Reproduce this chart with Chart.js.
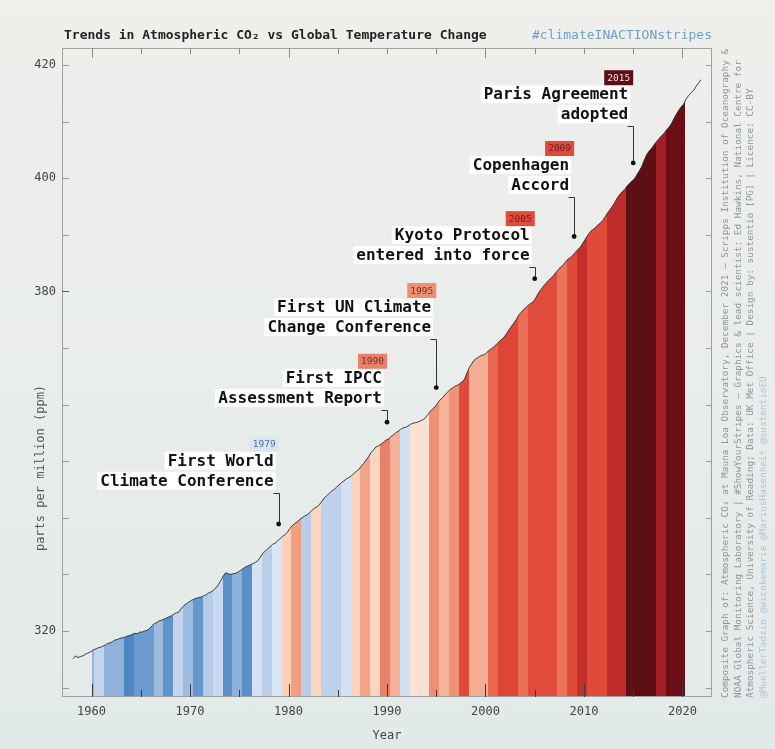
<!DOCTYPE html>
<html>
<head>
<meta charset="utf-8">
<title>Trends in Atmospheric CO2 vs Global Temperature Change</title>
<script src="https://cdn.jsdelivr.net/npm/chart.js@4.4.1/dist/chart.umd.min.js"></script>
<style>
    html, body { margin: 0; padding: 0; }
    body { width: 775px; height: 749px; overflow: hidden; background: linear-gradient(#efefec, #e2eae9); }
    #wrap { position: relative; width: 775px; height: 749px; }
</style>
</head>
<body>
<div id="wrap"><canvas id="co2Chart" width="775" height="749"></canvas></div>
<script>
// Mauna Loa CO2 (seasonally adjusted), quarterly means from 1958 Q1, ppm
const co2FirstYear = 1958;
const co2Quarterly = [
    315.1, 315.6, 315.3, 315.5,  // 1958
    315.6, 315.9, 316.1, 316.3,  // 1959
    316.6, 316.8, 317.0, 317.1,  // 1960
    317.3, 317.5, 317.8, 317.9,  // 1961
    318.1, 318.4, 318.5, 318.7,  // 1962
    318.8, 318.9, 319.1, 319.2,  // 1963
    319.4, 319.6, 319.5, 319.8,  // 1964
    319.8, 320.0, 320.1, 320.4,  // 1965
    320.9, 321.3, 321.5, 321.8,  // 1966
    321.9, 322.1, 322.3, 322.5,  // 1967
    322.7, 323.0, 323.2, 323.4,  // 1968
    324.0, 324.5, 324.8, 325.1,  // 1969
    325.4, 325.6, 325.8, 325.9,  // 1970
    326.0, 326.2, 326.4, 326.7,  // 1971
    326.9, 327.2, 327.6, 328.2,  // 1972
    328.9, 329.7, 330.3, 330.1,  // 1973
    330.0, 330.1, 330.2, 330.4,  // 1974
    330.7, 331.0, 331.3, 331.5,  // 1975
    331.7, 331.9, 332.1, 332.4,  // 1976
    333.0, 333.7, 334.1, 334.5,  // 1977
    334.9, 335.3, 335.5, 335.9,  // 1978
    336.3, 336.7, 337.0, 337.4,  // 1979
    338.1, 338.6, 339.0, 339.3,  // 1980
    339.7, 340.0, 340.3, 340.5,  // 1981
    340.9, 341.3, 341.7, 341.9,  // 1982
    342.3, 342.9, 343.5, 343.9,  // 1983
    344.3, 344.7, 345.0, 345.4,  // 1984
    345.8, 346.2, 346.5, 346.9,  // 1985
    347.1, 347.4, 347.8, 348.2,  // 1986
    348.5, 349.1, 349.6, 350.2,  // 1987
    350.8, 351.5, 352.0, 352.5,  // 1988
    352.7, 353.0, 353.3, 353.7,  // 1989
    353.9, 354.3, 354.6, 355.0,  // 1990
    355.3, 355.6, 355.9, 356.0,  // 1991
    356.2, 356.5, 356.7, 356.8,  // 1992
    356.9, 357.1, 357.3, 357.6,  // 1993
    358.2, 358.8, 359.2, 359.6,  // 1994
    360.2, 360.8, 361.2, 361.7,  // 1995
    362.2, 362.6, 362.9, 363.2,  // 1996
    363.4, 363.7, 364.0, 364.5,  // 1997
    365.6, 366.6, 367.3, 367.9,  // 1998
    368.2, 368.5, 368.7, 368.8,  // 1999
    369.2, 369.6, 369.9, 370.2,  // 2000
    370.7, 371.1, 371.5, 371.9,  // 2001
    372.5, 373.2, 373.8, 374.4,  // 2002
    375.0, 375.8, 376.3, 376.8,  // 2003
    377.2, 377.6, 377.9, 378.2,  // 2004
    378.9, 379.7, 380.3, 380.9,  // 2005
    381.4, 381.9, 382.3, 382.7,  // 2006
    383.3, 383.8, 384.3, 384.6,  // 2007
    385.2, 385.7, 386.0, 386.4,  // 2008
    386.9, 387.4, 387.8, 388.5,  // 2009
    389.2, 389.9, 390.5, 390.9,  // 2010
    391.2, 391.7, 392.0, 392.5,  // 2011
    393.1, 393.8, 394.4, 395.0,  // 2012
    395.7, 396.5, 397.1, 397.6,  // 2013
    398.0, 398.6, 399.1, 399.5,  // 2014
    399.9, 400.6, 401.3, 402.1,  // 2015
    403.2, 404.2, 404.8, 405.3,  // 2016
    405.9, 406.5, 407.0, 407.5,  // 2017
    407.9, 408.5, 409.0, 409.6,  // 2018
    410.5, 411.3, 412.0, 412.6,  // 2019
    413.1, 414.0, 414.6, 415.1,  // 2020
    415.5, 416.2, 416.8, 417.4   // 2021
];

// warming stripes, one colour per year
const stripeYears = [
    1960, 1961, 1962, 1963, 1964, 1965, 1966, 1967, 1968, 1969,
    1970, 1971, 1972, 1973, 1974, 1975, 1976, 1977, 1978, 1979,
    1980, 1981, 1982, 1983, 1984, 1985, 1986, 1987, 1988, 1989,
    1990, 1991, 1992, 1993, 1994, 1995, 1996, 1997, 1998, 1999,
    2000, 2001, 2002, 2003, 2004, 2005, 2006, 2007, 2008, 2009,
    2010, 2011, 2012, 2013, 2014, 2015, 2016, 2017, 2018, 2019, 2020
];
const stripeColors = [
    '#92b6dc', '#c2d5ed', '#8fb3da', '#8fb3da', '#4e86c2', '#6a9ace', '#6a9ace', '#9cbde0', '#5f93c9', '#c3d5ec',
    '#9cbde0', '#6797cb', '#b5cce9', '#c9daf0', '#5c90c8', '#8db2d9', '#5a8fc7', '#d6e2f2', '#b9cfe9', '#d8e5f4',
    '#fbd0b9', '#f0a07f', '#b8cde8', '#fad6c0', '#bdd1ea', '#bdd1ea', '#d4e1f2', '#fbd3bc', '#f1a487', '#fbd5c0',
    '#e9806a', '#f4b196', '#cfe0f2', '#fce0d0', '#fce0d0', '#ee8f72', '#f6b59a', '#ef9376', '#df4a3a', '#f4ad93',
    '#f4ad93', '#e9664f', '#dd4534', '#dd4534', '#ec6d55', '#e04b3b', '#e04b3b', '#e04b3b', '#ee7459', '#e04a3a',
    '#c3302c', '#df4a39', '#df4a39', '#bd2b2b', '#bd2b2b', '#5e0f13', '#5e0f13', '#5e0f13', '#a31e25', '#6c0e16', '#6c0e16'
];

// annotated events
const eventYears = [1979, 1990, 1995, 2005, 2009, 2015];
const eventLabels = [
    ['First World', 'Climate Conference'],
    ['First IPCC', 'Assessment Report'],
    ['First UN Climate', 'Change Conference'],
    ['Kyoto Protocol', 'entered into force'],
    ['Copenhagen', 'Accord'],
    ['Paris Agreement', 'adopted']
];
const eventDotPpm = [338.9, 356.9, 363.0, 382.25, 389.7, 402.7];
const eventLabelPpm = [346.55, 361.2, 373.7, 386.4, 398.8, 411.3];

// axis ticks
const yearTickLabels = [1960, 1970, 1980, 1990, 2000, 2010, 2020];
const yearTickMarks = [1960, 1965, 1970, 1975, 1980, 1985, 1990, 1995, 2000, 2005, 2010, 2015, 2020];
const ppmTickLabels = [320, 380, 400, 420];
const ppmTickMarks = [310, 320, 330, 340, 350, 360, 370, 380, 390, 400, 410, 420];

const creditLines = [
    'Composite Graph of: Atmospheric CO₂ at Mauna Loa Observatory, December 2021 – Scripps Institution of Oceanography &',
    'NOAA Global Monitoring Laboratory | #ShowYourStripes – Graphics & lead scientist: Ed Hawkins, National Centre for',
    'Atmospheric Science, University of Reading; Data: UK Met Office | Design by: sustentio [PG] | Licence: CC-BY',
    '@MuellerTadzio @wicokemarie @MariusHasenheit @sustentioEU'
];

const MONO = '"DejaVu Sans Mono", monospace';
Chart.defaults.font.family = MONO;

const co2Points = co2Quarterly.map((v, i) => ({ x: co2FirstYear + (i + 0.5) / 4, y: v }));

let stripeCache = null;
function stripeFill(context) {
    const chart = context.chart;
    const area = chart.chartArea;
    if (!area) return 'rgba(0,0,0,0)';
    const key = area.left + ',' + area.right;
    if (stripeCache && stripeCache.key === key) return stripeCache.g;

    const xs = chart.scales.x;
    const w = area.right - area.left;
    const off = v => Math.min(1, Math.max(0, (xs.getPixelForValue(v) - area.left) / w));
    const first = stripeYears[0];
    const last = stripeYears[stripeYears.length - 1];
    const g = chart.ctx.createLinearGradient(area.left, 0, area.right, 0);
    g.addColorStop(0, 'rgba(0,0,0,0)');
    g.addColorStop(off(first), 'rgba(0,0,0,0)');
    stripeYears.forEach((yr, i) => {
        g.addColorStop(off(Math.max(yr - 0.7, first)), stripeColors[i]);
        g.addColorStop(off(yr + 0.3), stripeColors[i]);
    });
    g.addColorStop(off(last + 0.3), 'rgba(0,0,0,0)');
    g.addColorStop(1, 'rgba(0,0,0,0)');
    stripeCache = { key, g };
    return g;
}

function isDark(hex) {
    const n = parseInt(hex.slice(1), 16);
    const r = n >> 16, gr = (n >> 8) & 255, b = n & 255;
    return (0.299 * r + 0.587 * gr + 0.114 * b) < 110;
}

const decorPlugin = {
    id: 'decor',
    afterDatasetsDraw(chart) {
        const { ctx, chartArea: a, scales: { x, y } } = chart;
        ctx.save();

        // frame
        ctx.strokeStyle = '#a0a0a0';
        ctx.lineWidth = 1;
        ctx.strokeRect(a.left + 0.5, a.top + 0.5, a.right - a.left - 1, a.bottom - a.top - 1);

        // inward tick marks
        yearTickMarks.forEach(v => {
            const px = Math.round(x.getPixelForValue(v)) + 0.5;
            ctx.strokeStyle = '#3c3c3c';
            const lb = v % 10 === 0 ? 13 : 7;
            ctx.beginPath(); ctx.moveTo(px, a.bottom); ctx.lineTo(px, a.bottom - lb); ctx.stroke();
            ctx.strokeStyle = '#8c8c8c';
            const lt = v % 20 === 0 ? 10 : 6;
            ctx.beginPath(); ctx.moveTo(px, a.top); ctx.lineTo(px, a.top + lt); ctx.stroke();
        });
        ppmTickMarks.forEach(v => {
            const py = Math.round(y.getPixelForValue(v)) + 0.5;
            ctx.strokeStyle = v === 380 ? '#555' : '#9a9a9a';
            ctx.beginPath(); ctx.moveTo(a.left, py); ctx.lineTo(a.left + 7, py); ctx.stroke();
            ctx.strokeStyle = '#9a9a9a';
            ctx.beginPath(); ctx.moveTo(a.right, py); ctx.lineTo(a.right - 6, py); ctx.stroke();
        });

        // event annotations
        eventYears.forEach((yr, i) => {
            const px = x.getPixelForValue(yr);
            const dotY = y.getPixelForValue(eventDotPpm[i]);
            const y2 = y.getPixelForValue(eventLabelPpm[i]);
            const rows = [y2 - 20, y2];
            const col = stripeColors[stripeYears.indexOf(yr)];

            ctx.font = 'bold 16px ' + MONO;
            ctx.textAlign = 'right';
            ctx.textBaseline = 'middle';
            eventLabels[i].forEach((txt, k) => {
                const tw = ctx.measureText(txt).width;
                ctx.fillStyle = '#ffffff';
                ctx.fillRect(px - 3 - tw - 5, rows[k] - 9, tw + 5, 18);
                ctx.fillStyle = '#111111';
                ctx.fillText(txt, px - 5, rows[k] + 1);
            });

            // year tag
            ctx.fillStyle = col;
            ctx.fillRect(px - 29, rows[0] - 9 - 15, 29, 15);
            ctx.font = '9.5px ' + MONO;
            ctx.textAlign = 'center';
            ctx.fillStyle = isDark(col) ? '#f2dede' : (yr < 1980 ? '#5b6f8c' : 'rgba(60,20,20,0.75)');
            ctx.fillText(String(yr), px - 14.5, rows[0] - 16);

            // leader and dot
            const ly = Math.round(y2 + 12) + 0.5;
            const lx = Math.round(px) + 0.5;
            ctx.strokeStyle = '#333333';
            ctx.lineWidth = 1;
            ctx.beginPath();
            ctx.moveTo(lx - 6, ly);
            ctx.lineTo(lx, ly);
            ctx.lineTo(lx, dotY);
            ctx.stroke();
            ctx.fillStyle = '#111111';
            ctx.beginPath();
            ctx.arc(px, dotY, 2.4, 0, Math.PI * 2);
            ctx.fill();
        });

        // y axis title
        ctx.save();
        ctx.translate(41, 468);
        ctx.rotate(-Math.PI / 2);
        ctx.font = '12px ' + MONO;
        ctx.fillStyle = '#555555';
        ctx.textAlign = 'center';
        ctx.textBaseline = 'middle';
        ctx.fillText('parts per million (ppm)', 0, 0);
        ctx.restore();

        // heading and hashtag
        ctx.textBaseline = 'alphabetic';
        ctx.font = 'bold 13px ' + MONO;
        ctx.fillStyle = '#222222';
        ctx.textAlign = 'left';
        ctx.fillText('Trends in Atmospheric CO₂ vs Global Temperature Change', 64, 39);
        ctx.font = '13px ' + MONO;
        ctx.fillStyle = '#6f9fc8';
        ctx.textAlign = 'right';
        ctx.fillText('#climateINACTIONstripes', a.right, 39);

        // credits, rotated
        ctx.font = '9.4px ' + MONO;
        creditLines.forEach((txt, k) => {
            ctx.save();
            ctx.translate(726 + k * 12.4, a.bottom + 1);
            ctx.rotate(-Math.PI / 2);
            ctx.textAlign = 'left';
            ctx.textBaseline = 'middle';
            ctx.fillStyle = k === 3 ? '#a6c6df' : '#8e9398';
            ctx.fillText(txt, 0, 0);
            ctx.restore();
        });

        ctx.restore();
    }
};

const co2Ctx = document.getElementById('co2Chart').getContext('2d');

new Chart(co2Ctx, {
    type: 'line',
    data: {
        datasets: [{
            label: 'CO2 (ppm)',
            data: co2Points,
            borderColor: '#2a2a2a',
            borderWidth: 0.9,
            pointRadius: 0,
            tension: 0,
            fill: 'start',
            backgroundColor: stripeFill
        }]
    },
    options: {
        responsive: false,
        animation: false,
        events: [],
        layout: {
            padding: { left: 0, top: 48, right: 63, bottom: 0 }
        },
        plugins: {
            legend: { display: false },
            tooltip: { enabled: false }
        },
        scales: {
            x: {
                type: 'linear',
                min: 1957,
                max: 2023,
                afterBuildTicks: s => { s.ticks = yearTickLabels.map(v => ({ value: v })); },
                afterFit: s => { s.height = 52; },
                grid: { display: false, drawTicks: false },
                border: { display: false },
                ticks: {
                    padding: 8,
                    color: '#444444',
                    font: { size: 12 },
                    maxRotation: 0,
                    callback: v => String(v)
                },
                title: {
                    display: true,
                    text: 'Year',
                    color: '#444444',
                    font: { size: 12 },
                    padding: { top: 4, bottom: 6 }
                }
            },
            y: {
                min: 308.34,
                max: 423,
                afterBuildTicks: s => { s.ticks = ppmTickLabels.map(v => ({ value: v })); },
                afterFit: s => { s.width = 62; },
                grid: { display: false, drawTicks: false },
                border: { display: false },
                ticks: {
                    padding: 6,
                    color: '#444444',
                    font: { size: 12 },
                    callback: v => String(v)
                }
            }
        }
    },
    plugins: [decorPlugin]
});
</script>
</body>
</html>
